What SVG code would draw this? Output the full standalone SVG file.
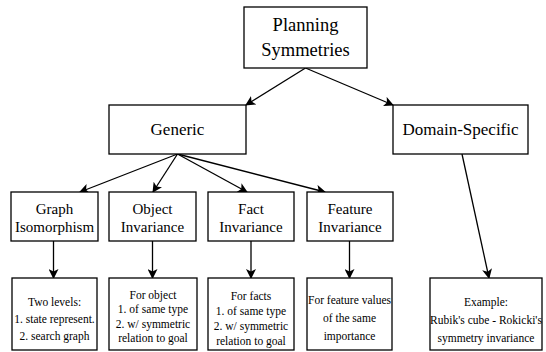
<svg xmlns="http://www.w3.org/2000/svg" width="546" height="352" viewBox="0 0 546 352">
<style>
.box{fill:#fff;stroke:#000;stroke-width:1.3}
text{font-family:'Liberation Serif','Times New Roman',Times,serif;fill:#000;text-anchor:middle;dominant-baseline:central}
.t1{font-size:18.5px}
.t2{font-size:17px}
.t3{font-size:15px}
.t4{font-size:11.5px}
.c{stroke:#000;stroke-width:1.3;fill:none;marker-end:url(#ah)}
</style>
<defs>
<marker id="ah" viewBox="0 0 10 10" refX="9" refY="5" markerWidth="10" markerHeight="10" markerUnits="userSpaceOnUse" orient="auto">
<path d="M0,0 L10,5 L0,10 L2.5,5 Z" fill="#000"/>
</marker>
</defs>
<rect width="546" height="352" fill="#fff"/>
<g id="connectors">
<line class="c" x1="305.5" y1="68" x2="246" y2="105"/>
<line class="c" x1="305.5" y1="68" x2="393" y2="105"/>
<line class="c" x1="177.5" y1="154" x2="80" y2="192"/>
<line class="c" x1="177.5" y1="154" x2="153" y2="192"/>
<line class="c" x1="177.5" y1="154" x2="247" y2="192"/>
<line class="c" x1="177.5" y1="154" x2="325" y2="192"/>
<line class="c" x1="53.5" y1="241" x2="53.5" y2="278"/>
<line class="c" x1="152.5" y1="241" x2="152.5" y2="278"/>
<line class="c" x1="251" y1="241" x2="251" y2="278"/>
<line class="c" x1="349.5" y1="241" x2="349.5" y2="278"/>
<line class="c" x1="462" y1="154" x2="489" y2="278"/>
</g>
<g id="planning">
<rect class="box" x="244" y="7" width="123" height="61"/>
<text class="t1" x="305.5" y="25">Planning</text>
<text class="t1" x="305.5" y="50">Symmetries</text>
</g>
<g id="generic">
<rect class="box" x="109" y="105" width="137" height="49"/>
<text class="t2" x="177.5" y="129.5">Generic</text>
</g>
<g id="domain">
<rect class="box" x="393" y="105" width="135" height="49"/>
<text class="t2" x="460.5" y="129.5">Domain-Specific</text>
</g>
<g id="graph">
<rect class="box" x="11" y="192" width="87" height="49"/>
<text class="t3" x="54.5" y="208.5">Graph</text>
<text class="t3" x="54.5" y="227">Isomorphism</text>
</g>
<g id="object">
<rect class="box" x="109" y="192" width="87" height="49"/>
<text class="t3" x="152.5" y="208.5">Object</text>
<text class="t3" x="152.5" y="227">Invariance</text>
</g>
<g id="fact">
<rect class="box" x="208" y="192" width="86" height="49"/>
<text class="t3" x="251" y="208.5">Fact</text>
<text class="t3" x="251" y="227">Invariance</text>
</g>
<g id="feature">
<rect class="box" x="307" y="192" width="86" height="49"/>
<text class="t3" x="350" y="208.5">Feature</text>
<text class="t3" x="350" y="227">Invariance</text>
</g>
<g id="graph-detail">
<rect class="box" x="12" y="278" width="85" height="72"/>
<text class="t4" x="54.5" y="302">Two levels:</text>
<text class="t4" x="54.5" y="319">1. state represent.</text>
<text class="t4" x="54.5" y="336">2. search graph</text>
</g>
<g id="object-detail">
<rect class="box" x="109" y="278" width="88" height="72"/>
<text class="t4" x="153" y="294.5">For object</text>
<text class="t4" x="153" y="309">1. of same type</text>
<text class="t4" x="153" y="323.5">2. w/ symmetric</text>
<text class="t4" x="153" y="338">relation to goal</text>
</g>
<g id="fact-detail">
<rect class="box" x="208" y="278" width="86" height="72"/>
<text class="t4" x="251" y="295.5">For facts</text>
<text class="t4" x="251" y="310.5">1. of same type</text>
<text class="t4" x="251" y="325.5">2. w/ symmetric</text>
<text class="t4" x="251" y="340.5">relation to goal</text>
</g>
<g id="feature-detail">
<rect class="box" x="307" y="278" width="85" height="72"/>
<text class="t4" x="349.5" y="300">For feature values</text>
<text class="t4" x="349.5" y="318">of the same</text>
<text class="t4" x="349.5" y="336">importance</text>
</g>
<g id="example">
<rect class="box" x="430" y="278" width="112" height="72"/>
<text class="t4" x="486" y="302">Example:</text>
<text class="t4" x="486" y="320">Rubik's cube - Rokicki's</text>
<text class="t4" x="486" y="338">symmetry invariance</text>
</g>
</svg>
